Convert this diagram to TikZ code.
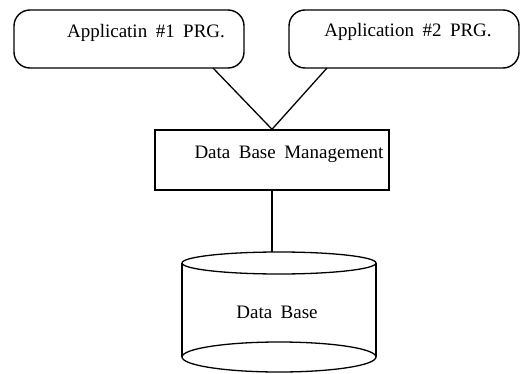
\documentclass[tikz,border=0pt]{standalone}
\usepackage{fontspec}
\setmainfont{Liberation Serif}
\newcommand\lblfont{\fontsize{19}{21}\selectfont\spaceskip 8.5pt plus 1pt minus 1pt\relax}
\tikzset{
    appbox/.style={draw,line width=1.4pt,rounded corners=16pt,minimum width=230pt,minimum height=58pt,inner sep=0pt},
    dbmbox/.style={draw,line width=1.4pt,minimum width=234pt,minimum height=60pt,inner sep=0pt},
    lbl/.style={font=\lblfont},
    wire/.style={line width=1.3pt}
}
\begin{document}
\begin{tikzpicture}[x=1pt,y=-1pt]
    \useasboundingbox (0,0) rectangle (521,374);

    % Application programs
    \node[appbox] (appA) at (129,39) {};
    \node[appbox] (appB) at (404,39) {};
    \node[lbl] (appAtxt) at (146,33) {Applicatin \#1 PRG.};
    \node[lbl] (appBtxt) at (408,32) {Application \#2 PRG.};

    % Data base management
    \node[dbmbox] (dbm) at (272,160) {};
    \node[lbl] (dbmtxt) at (289,154) {Data Base Management};

    % Data base (cylinder)
    \coordinate (dbtop) at (272,252);
    \draw[wire] (279,263) ellipse (97pt and 11pt);
    \draw[wire] (279,357) ellipse (97pt and 15pt);
    \draw[wire] (182,263) -- (182,357);
    \draw[wire] (376,263) -- (376,357);
    \node[lbl] (db) at (277,312) {Data Base};

    % Connections
    \coordinate (appAfoot) at (213,68);
    \coordinate (appBfoot) at (327,68);
    \draw[wire] (appAfoot) -- (dbm.north);
    \draw[wire] (appBfoot) -- (dbm.north);
    \draw[wire] (dbm.south) -- (dbtop);
\end{tikzpicture}
\end{document}
